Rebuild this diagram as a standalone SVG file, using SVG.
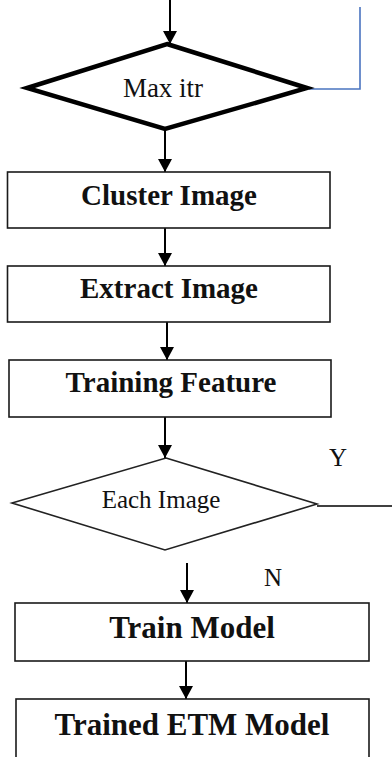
<svg xmlns="http://www.w3.org/2000/svg" width="392" height="757" viewBox="0 0 392 757">
<style>
  .box { fill: #fff; stroke: #1a1a1a; stroke-width: 1.6; }
  .bt { font-family: "Liberation Serif", "Times New Roman", "DejaVu Serif", serif; font-weight: bold; font-size: 29px; fill: #111; text-anchor: middle; }
  .nt { font-family: "Liberation Serif", "Times New Roman", "DejaVu Serif", serif; font-weight: normal; font-size: 25px; fill: #111; text-anchor: middle; }
  .con { fill: none; stroke: #000; stroke-width: 2; }
</style>
<defs>
  <marker id="ah" markerUnits="userSpaceOnUse" markerWidth="16" markerHeight="16" viewBox="0 0 16 16" refX="14" refY="8" orient="auto">
    <path d="M1,1 L14,8 L1,15 Z" fill="#000"/>
  </marker>
</defs>
<rect width="392" height="757" fill="#fff"/>
<g id="connectors">
  <line class="con" x1="170" y1="0" x2="170" y2="44" marker-end="url(#ah)"/>
  <line class="con" x1="165" y1="129" x2="165" y2="172" marker-end="url(#ah)"/>
  <line class="con" x1="165" y1="228" x2="165" y2="266" marker-end="url(#ah)"/>
  <line class="con" x1="167" y1="322" x2="167" y2="360" marker-end="url(#ah)"/>
  <line class="con" x1="165" y1="417" x2="165" y2="458" marker-end="url(#ah)"/>
  <line class="con" x1="187" y1="563" x2="187" y2="603" marker-end="url(#ah)"/>
  <line class="con" x1="186" y1="661" x2="186" y2="699" marker-end="url(#ah)"/>
  <polyline points="309,89 360,89 360,7" fill="none" stroke="#4a74c0" stroke-width="1.6"/>
  <line x1="317" y1="506" x2="392" y2="506" stroke="#000" stroke-width="1.6"/>
</g>
<g id="max-itr">
  <polygon points="167,44 307,88 165,129 27,88" fill="#fff" stroke="#000" stroke-width="4.5" stroke-linejoin="miter"/>
  <text class="nt" x="163" y="97" style="font-size:27px">Max itr</text>
</g>
<g id="cluster-image">
  <rect class="box" x="7.5" y="172" width="322.5" height="56"/>
  <text class="bt" x="169" y="205">Cluster Image</text>
</g>
<g id="extract-image">
  <rect class="box" x="7.5" y="266" width="322.5" height="56"/>
  <text class="bt" x="169" y="298">Extract Image</text>
</g>
<g id="training-feature">
  <rect class="box" x="9" y="360" width="322" height="57"/>
  <text class="bt" x="171" y="392">Training Feature</text>
</g>
<g id="each-image">
  <polygon points="166,458 317,504 165,550 12,503" fill="#fff" stroke="#222" stroke-width="1.6"/>
  <text class="nt" x="161" y="508" style="font-size:25px">Each Image</text>
</g>
<g id="label-y"><text class="nt" x="338" y="466">Y</text></g>
<g id="label-n"><text class="nt" x="273" y="586">N</text></g>
<g id="train-model">
  <rect class="box" x="15" y="603" width="354" height="58"/>
  <text class="bt" x="192" y="638" style="font-size:31px">Train Model</text>
</g>
<g id="trained-etm-model">
  <rect class="box" x="16" y="699" width="353" height="70"/>
  <text class="bt" x="192" y="735" style="font-size:31px">Trained ETM Model</text>
</g>
</svg>
